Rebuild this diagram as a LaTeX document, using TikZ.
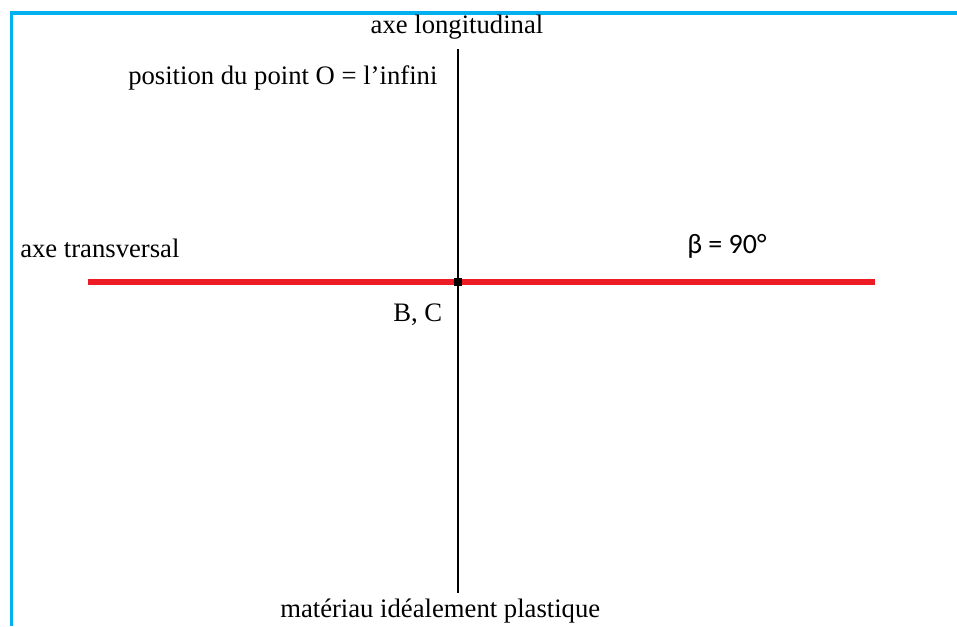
\documentclass[tikz,border=0pt]{standalone}
\usepackage{fontspec}
\setmainfont{Liberation Serif}
\newfontfamily\calfont{Carlito}
\usetikzlibrary{positioning}
\definecolor{frameblue}{RGB}{0,176,240}
\definecolor{axisred}{RGB}{237,28,36}

\begin{document}
\begin{tikzpicture}[x=0.75pt,y=-0.75pt,
  lbl/.style={anchor=base west,inner sep=0pt,font=\fontsize{20}{24}\selectfont},
  axisline/.style={line width=1.3pt},
  redline/.style={axisred,line width=4pt}]
\useasboundingbox (0,0) rectangle (957,626);
% cadre
\draw[frameblue,line width=2.4pt] (11.5,626) -- (11.5,13) -- (957,13);
% axes
\coordinate (lonTop) at (458,49);
\coordinate (lonBot) at (458,593);
\coordinate (traL) at (88,282);
\coordinate (traR) at (875,282);
\draw[axisline] (lonTop) -- (lonBot);
\draw[redline] (traL) -- (traR);
\node[fill,inner sep=0pt,minimum size=6.5pt] (BC) at (458,282) {};
% textes
\node[lbl,anchor=base] (lonLbl) at (457,33) {axe longitudinal};
\node[lbl] (posO) at (128,84) {position du point O = l’infini};
\node[lbl] (traLbl) at (20,257) {axe transversal};
\node[lbl,font=\fontsize{21}{25}\selectfont\calfont] (beta) at (687,253) {β = 90°};
\node[lbl] (bcLbl) at (393,321) {B, C};
\node[lbl] (matLbl) at (280,617) {matériau idéalement plastique};
\end{tikzpicture}
\end{document}
